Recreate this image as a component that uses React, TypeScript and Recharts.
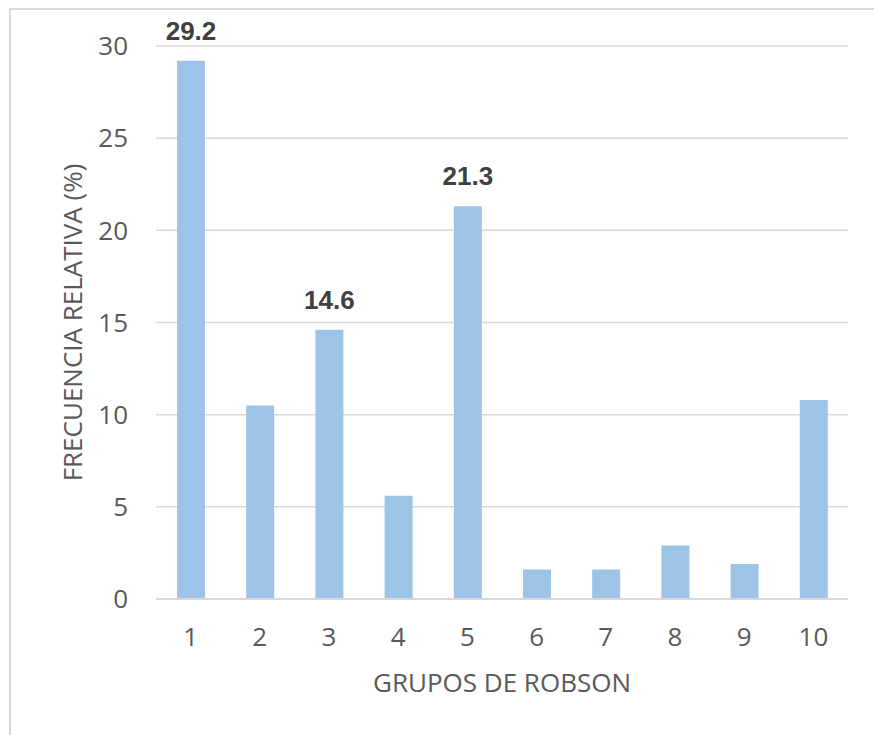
import { BarChart, Bar, XAxis, YAxis, CartesianGrid, LabelList, Label } from 'recharts'

const grupos = ['1', '2', '3', '4', '5', '6', '7', '8', '9', '10']
const frecuencia = [29.2, 10.5, 14.6, 5.6, 21.3, 1.6, 1.6, 2.9, 1.9, 10.8]
// only some bars carry a value label in the original
const etiquetas = ['29.2', '', '14.6', '', '21.3', '', '', '', '', '']
const yTicks = [0, 5, 10, 15, 20, 25, 30]

const data = grupos.map((g, i) => ({
  grupo: g,
  valor: frecuencia[i],
  etiqueta: etiquetas[i],
}))

const gray = '#595959'
const font = '"Open Sans", "Liberation Sans", sans-serif'

export default function App() {
  return (
    <div
      style={{
        position: 'fixed',
        top: 0,
        left: 0,
        width: 874,
        height: 735,
        overflow: 'hidden',
        background: '#fff',
      }}
    >
      <div
        style={{
          position: 'absolute',
          left: 9,
          top: 8,
          width: 1000,
          height: 1000,
          border: '2px solid #d9d9d9',
        }}
      />
      <div style={{ position: 'absolute', left: 0, top: 0 }}>
        <BarChart
          width={874}
          height={735}
          data={data}
          margin={{ top: 46, right: 26, left: 0, bottom: 0 }}
        >
          <CartesianGrid vertical={false} stroke="#d9d9d9" strokeWidth={1.5} />
          <XAxis
            dataKey="grupo"
            height={136}
            tickLine={false}
            tickSize={0}
            tickMargin={29}
            axisLine={{ stroke: '#d9d9d9', strokeWidth: 2 }}
            tick={{ fill: gray, fontSize: 26, fontFamily: font }}
          >
            <Label
              value="GRUPOS DE ROBSON"
              position="insideBottom"
              offset={43}
              style={{ fill: gray, fontSize: 26, fontFamily: font }}
            />
          </XAxis>
          <YAxis
            width={156}
            domain={[0, 30]}
            ticks={yTicks}
            tickLine={false}
            axisLine={false}
            tickSize={0}
            tickMargin={28}
            tick={{ fill: gray, fontSize: 26, fontFamily: font }}
          >
            <Label
              value="FRECUENCIA RELATIVA (%)"
              angle={-90}
              position="insideLeft"
              offset={73}
              style={{ fill: gray, fontSize: 26, fontFamily: font, textAnchor: 'middle' }}
            />
          </YAxis>
          <Bar dataKey="valor" fill="#9dc3e6" barSize={28} isAnimationActive={false}>
            <LabelList
              dataKey="etiqueta"
              position="top"
              offset={21}
              style={{
                fill: '#404040',
                fontSize: 26,
                fontWeight: 'bold',
                fontFamily: '"Liberation Sans", Arial, sans-serif',
              }}
            />
          </Bar>
        </BarChart>
      </div>
    </div>
  )
}
